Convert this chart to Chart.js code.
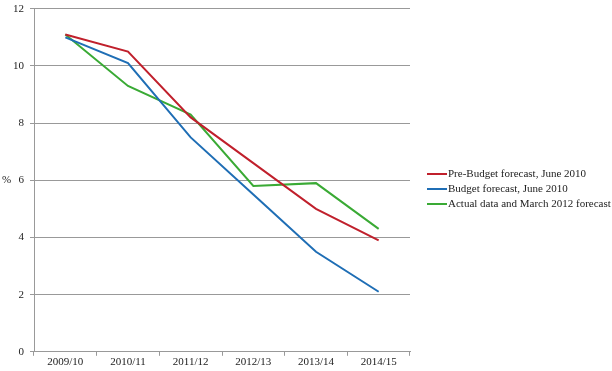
<!DOCTYPE html>
<html>
<head>
<meta charset="utf-8">
<script src="https://cdn.jsdelivr.net/npm/chart.js@4.4.0/dist/chart.umd.min.js"></script>
<style>
  html, body { margin: 0; padding: 0; background: #fff; }
  #wrap { width: 612px; height: 371px; }
</style>
</head>
<body>
<div id="wrap"><canvas id="chart"></canvas></div>
<script>
var years = ['2009/10', '2010/11', '2011/12', '2012/13', '2013/14', '2014/15'];
var preBudget = [11.1, 10.5, 8.2, 6.6, 5.0, 3.9];
var budget = [11.0, 10.1, 7.5, 5.5, 3.5, 2.1];
var actual = [11.1, 9.3, 8.3, 5.8, 5.9, 4.3];

var serif = "'Liberation Serif', 'DejaVu Serif', serif";

// "%" label beside the y axis, plus the legend on the right
// (the built-in right legend gets squeezed to half width, so it is drawn here)
var extras = {
  id: 'extras',
  afterDraw: function(chart) {
    var c = chart.ctx;
    var y = chart.scales.y;
    var area = chart.chartArea;
    c.save();
    c.font = '11px ' + serif;
    c.fillStyle = '#222';
    c.textAlign = 'left';
    c.textBaseline = 'middle';
    c.fillText('%', 2, y.getPixelForValue(6));

    var sets = chart.data.datasets;
    var rowH = 15;
    var top = (area.top + area.bottom) / 2 + 9 - rowH * (sets.length - 1) / 2;
    sets.forEach(function(ds, i) {
      var ry = Math.round(top + i * rowH);
      c.strokeStyle = ds.borderColor;
      c.lineWidth = 2;
      c.beginPath();
      c.moveTo(area.right + 17, ry);
      c.lineTo(area.right + 37, ry);
      c.stroke();
      c.fillText(ds.label, area.right + 38, ry);
    });
    c.restore();
  }
};

var ctx = document.getElementById('chart');
var chart = new Chart(ctx, {
  type: 'line',
  data: {
    labels: years,
    datasets: [{
        label: 'Pre-Budget forecast, June 2010',
        data: preBudget,
        borderColor: '#c0202c',
        backgroundColor: '#c0202c',
        borderWidth: 2,
        pointRadius: 0,
        tension: 0
      },
      {
        label: 'Budget forecast, June 2010',
        data: budget,
        borderColor: '#1f6eb5',
        backgroundColor: '#1f6eb5',
        borderWidth: 2,
        pointRadius: 0,
        tension: 0
      },
      {
        label: 'Actual data and March 2012 forecast',
        data: actual,
        borderColor: '#3aaa35',
        backgroundColor: '#3aaa35',
        borderWidth: 2,
        pointRadius: 0,
        tension: 0
      }
    ]
  },
  options: {
    responsive: true,
    maintainAspectRatio: false,
    animation: false,
    layout: {
      padding: { left: 7, top: 2, right: 202, bottom: 2 }
    },
    plugins: {
      legend: { display: false },
      tooltip: { enabled: false }
    },
    scales: {
      x: {
        offset: true,
        grid: {
          offset: true,
          drawOnChartArea: false,
          tickLength: 4,
          color: '#999'
        },
        border: { color: '#999' },
        ticks: {
          color: '#222',
          padding: 0,
          maxRotation: 0,
          font: { family: serif, size: 11 }
        }
      },
      y: {
        min: 0,
        max: 12,
        ticks: {
          stepSize: 2,
          color: '#222',
          padding: 6,
          font: { family: serif, size: 11, lineHeight: 0.5 }
        },
        grid: {
          color: '#999',
          tickLength: 4
        },
        border: { color: '#999' }
      }
    }
  },
  plugins: [extras]
});
</script>
</body>
</html>
